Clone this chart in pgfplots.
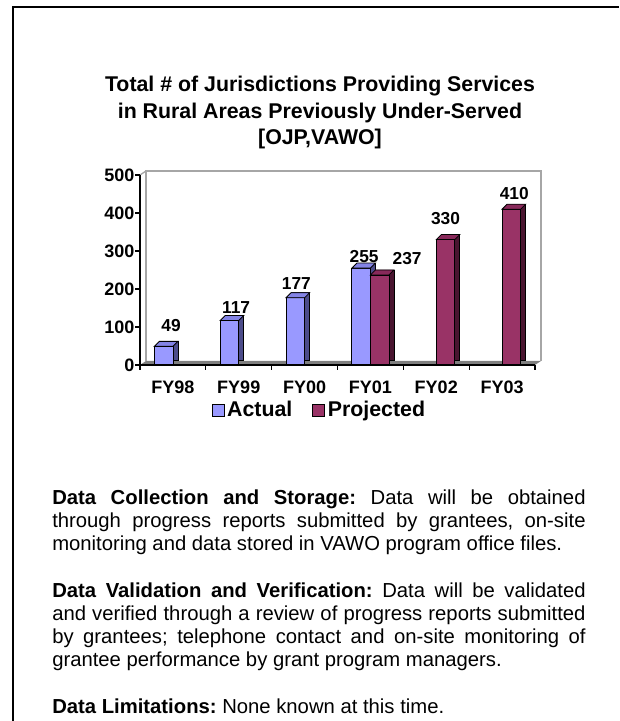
\documentclass[border=0pt]{standalone}
\usepackage{fontspec}
\setmainfont{Liberation Sans}
\usepackage{pgfplots}
\pgfplotsset{compat=1.18}
\usepackage{pgfplotstable}

\definecolor{actfront}{HTML}{9999FF}
\definecolor{acttop}{HTML}{8484E6}
\definecolor{actside}{HTML}{4C4C8A}
\definecolor{projfront}{HTML}{993366}
\definecolor{projtop}{HTML}{88295A}
\definecolor{projside}{HTML}{4A1530}
\definecolor{wallgray}{HTML}{A6A6A6}
\definecolor{floorgray}{HTML}{7F7F7F}

\newcommand\tickfont{\fontsize{13.5}{16}\selectfont\bfseries}
\newcommand\lblfont{\fontsize{13}{15}\selectfont\bfseries}

% top faces of the 3-D bars (marks sit at the category centre, so the
% bar shift is built in)
\pgfdeclareplotmark{barTopL}{%
  \pgfpathmoveto{\pgfqpoint{-13.9pt}{0pt}}%
  \pgfpathlineto{\pgfqpoint{0pt}{0pt}}%
  \pgfpathlineto{\pgfqpoint{3.75pt}{3.75pt}}%
  \pgfpathlineto{\pgfqpoint{-10.15pt}{3.75pt}}%
  \pgfpathclose
  \pgfusepathqfillstroke}
\pgfdeclareplotmark{barTopR}{%
  \pgfpathmoveto{\pgfqpoint{0pt}{0pt}}%
  \pgfpathlineto{\pgfqpoint{13.9pt}{0pt}}%
  \pgfpathlineto{\pgfqpoint{17.65pt}{3.75pt}}%
  \pgfpathlineto{\pgfqpoint{3.75pt}{3.75pt}}%
  \pgfpathclose
  \pgfusepathqfillstroke}

% x = category, y = value, lx/ly = offset of the value label from the category centre
\pgfplotstableread{
x  y    lx     ly
0  49   -1.35  15.8
1  117  -1.95  9.8
2  177  -6.15  10.5
3  255  -4.75  9.0
}\actual
\pgfplotstableread{
x  y    lx     ly
3  237  27.55  12.0
4  330  6.95   15.5
5  410  9.15   11.8
}\projected

\pgfplotsset{
  bar3d/.style n args={5}{
    ybar, bar width=13.9pt, bar shift=#4,
    draw=black, line width=0.6pt, fill=#1,
    preaction={fill=#3, draw=black, transform canvas={shift={(3.75pt,3.75pt)}}},
    mark=#5, mark options={fill=#2, draw=black, line width=0.6pt},
    nodes near coords,
    visualization depends on={\thisrow{lx}\as\lx},
    visualization depends on={\thisrow{ly}\as\ly},
    every node near coord/.append style={anchor=center, text=black,
      xshift=\lx pt, yshift=\ly pt, font=\lblfont},
    forget plot},
}

\begin{document}
\begin{tikzpicture}[x=0.75pt, y=0.75pt]
\path[use as bounding box] (0,0) rectangle (619,721);
% page frame: left and top rules only
\fill (12,0) rectangle (14,715);
\fill (12,713) rectangle (619,715);

\node[align=center, font=\fontsize{16}{20}\selectfont\bfseries]
  at (320,608.5) {Total \# of Jurisdictions Providing Services\\
  in Rural Areas Previously Under-Served\\ {[OJP,VAWO]}};

\coordinate (O) at (140,356);
\begin{axis}[
  at={(O)}, anchor=south west,
  scale only axis, width=296.25pt, height=142.5pt,
  xmin=-0.5, xmax=5.5, ymin=0, ymax=500,
  axis lines=left, axis line style={-, line width=1pt},
  axis on top, clip=false,
  tick align=outside, major tick length=3.75pt, minor tick length=3.75pt,
  tick style={black, line width=0.9pt},
  xtick={0,...,5}, xticklabels={FY98,FY99,FY00,FY01,FY02,FY03},
  major x tick style={draw=none},
  minor xtick={-0.5,0.5,...,5.5},
  ytick={0,100,...,500},
  ticklabel style={font=\tickfont},
  xticklabel style={yshift=-4.5pt},
  yticklabel style={xshift=3pt},
  /pgf/number format/assume math mode=true,
  legend style={at={(0.455,-0.237)}, anchor=center, draw=none, fill=none,
    font=\fontsize{16}{18}\selectfont\bfseries, inner sep=0pt,
    /tikz/every even column/.append style={column sep=13pt}},
  legend columns=2,
]
% floor and back wall
\fill[floorgray] (rel axis cs:0,0) -- (rel axis cs:1,0)
  -- ([shift={(4.5pt,3pt)}]rel axis cs:1,0) -- ([shift={(4.5pt,3pt)}]rel axis cs:0,0) -- cycle;
\draw[wallgray, line width=1.2pt] ([shift={(4.5pt,3pt)}]rel axis cs:0,0)
  -- ([shift={(4.5pt,3pt)}]rel axis cs:0,1) -- ([shift={(4.5pt,3pt)}]rel axis cs:1,1)
  -- ([shift={(4.5pt,3pt)}]rel axis cs:1,0);
\draw[wallgray, line width=1pt] (rel axis cs:0,1) -- ([shift={(4.5pt,3pt)}]rel axis cs:0,1);

\addplot[bar3d={actfront}{acttop}{actside}{-6.95pt}{barTopL}] table[x=x, y=y] {\actual};
\addplot[bar3d={projfront}{projtop}{projside}{6.95pt}{barTopR}] table[x=x, y=y] {\projected};

\addlegendimage{legend image code/.code={\draw[fill=actfront, draw=black, line width=0.6pt] (0pt,-4.5pt) rectangle (9pt,4.5pt);}}
\addlegendentry{Actual}
\addlegendimage{legend image code/.code={\draw[fill=projfront, draw=black, line width=0.6pt] (0pt,-4.5pt) rectangle (9pt,4.5pt);}}
\addlegendentry{Projected}
\end{axis}

\node[anchor=north west, inner sep=0pt, text width=400pt, align=justify,
  font=\fontsize{15.2}{17.4}\selectfont] at (52,231.5) {%
  \hyphenpenalty=10000 \frenchspacing
  \textbf{Data Collection and Storage:} Data will be obtained\linebreak
  through progress reports submitted by grantees, on-site\linebreak
  monitoring and data stored in VAWO program office files.\par\vspace{17.4pt}
  \textbf{Data Validation and Verification:} Data will be validated\linebreak
  and verified through a review of progress reports submitted\linebreak
  by grantees; telephone contact and on-site monitoring of\linebreak
  grantee performance by grant program managers.\par\vspace{17.4pt}
  \textbf{Data Limitations:} None known at this time.};
\end{tikzpicture}
\end{document}
